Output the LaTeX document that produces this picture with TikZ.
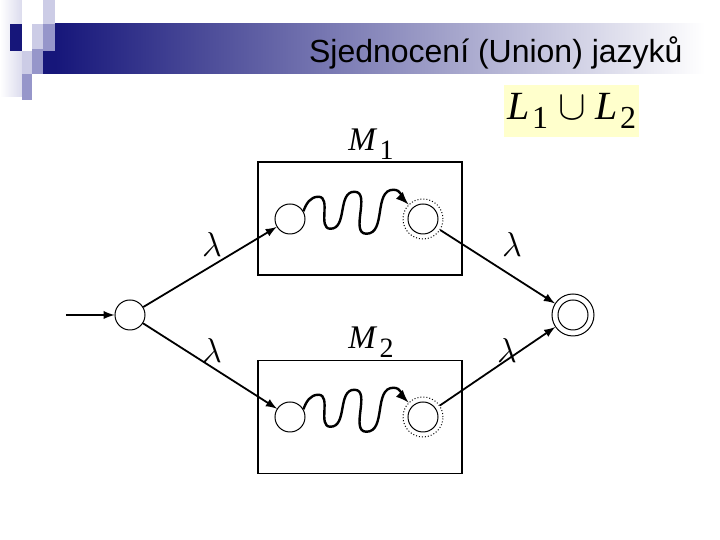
\documentclass[tikz,border=0pt]{standalone}
\usepackage{fontspec}
\setmainfont{Liberation Serif}
\newfontfamily\titlefont{Liberation Sans}
\usepackage{xcolor}
\usepackage{tikz}
\usetikzlibrary{shapes,arrows,positioning}
\definecolor{navy}{RGB}{22,22,122}
\definecolor{lightlav}{RGB}{204,204,230}
\definecolor{midlav}{RGB}{150,150,202}
\definecolor{lyellow}{RGB}{255,255,204}
\newcommand{\sublab}[4]{\textit{#1}\kern1pt\raisebox{#4}{\fontsize{#3}{#3}\selectfont #2}}

\begin{document}
\begin{tikzpicture}[
    x=0.5pt, y=0.5pt,
    node distance=0.7cm,
    state/.style={circle, draw, line width=0.5pt, minimum size=15pt, inner sep=0pt},
    accept/.style={circle, draw, densely dotted, line width=0.5pt, minimum size=20pt, inner sep=0pt},
    final/.style={circle, draw, line width=0.5pt, minimum size=21pt, inner sep=0pt},
    box/.style={rectangle, draw, line width=0.7pt, minimum width=102pt, minimum height=56.5pt},
    arrow/.style={-latex, line width=0.9pt},
    wave/.style={-latex, line width=1.2pt},
    lam/.style={font=\fontsize{17}{17}\selectfont},
    mlab/.style={font=\fontsize{16.5}{16.5}\selectfont}
]
\useasboundingbox (0,0) rectangle (720,540);

% header
\fill[left color=white, right color=lightlav!70] (0,443) rectangle (22,540);
\fill[left color=navy, right color=white] (55,466) rectangle (705,516);
\fill[navy] (43,466) rectangle (55,489);
\fill[navy] (10,489) rectangle (22,516);
\fill[lightlav] (32,491) rectangle (43,516);
\fill[midlav] (43,489) rectangle (55,516);
\fill[lightlav] (43,516) rectangle (55,540);
\fill[midlav] (32,466) rectangle (43,491);
\fill[lightlav] (22,466) rectangle (32,489);
\fill[midlav] (22,440) rectangle (32,466);
\node[anchor=base east, inner sep=0pt, font=\titlefont\fontsize{16}{16}\selectfont] (title) at (683,477) {Sjednocení (Union) jazyků};

\node[fill=lyellow, minimum width=67.5pt, minimum height=26pt, inner sep=1pt, font=\fontsize{20}{20}\selectfont] (union) at (572,429)
    {\sublab{L}{1}{16}{-0.45ex} $\cup$ \sublab{L}{2}{16}{-0.45ex}};

% machines
\node[box] (box1) at (360,321.5) {};
\node[box] (box2) at (360,123) {};
\node[mlab] (m1) at (371,396) {\sublab{M}{1}{14}{-0.6ex}};
\node[mlab] (m2) at (371,198) {\sublab{M}{2}{14}{-0.6ex}};

\node[state] (s1) at (290,321) {};
\node[accept] (f1) at (423,321) {};
\node[state] (s2) at (290,123) {};
\node[accept] (f2) at (423,123) {};
\draw[line width=0.5pt] (f1) circle (7.5pt);
\draw[line width=0.5pt] (f2) circle (7.5pt);

\foreach \m in {1,2}
    \draw[wave] (s\m.30) to[out=70,in=180] ++(15,14.5) to[out=0,in=180] ++(12,-32)
        to[out=0,in=180] ++(24,37) to[out=0,in=180] ++(12,-42)
        to[out=0,in=180] ++(27,44) to[out=0,in=135] (f\m.135);

% start and final
\coordinate (start) at (66,225);
\node[state] (q0) at (130,225) {};
\node[final] (qf) at (573,225) {};
\draw[line width=0.5pt] (qf) circle (7.5pt);

\draw[arrow] (start) -- (q0);
\draw[arrow] (q0) -- (s1);
\draw[arrow] (q0) -- (s2);
\draw[arrow] (f1) -- (qf);
\draw[arrow] (f2) -- (qf);

\node[lam] (l1) at (212,295) {$\lambda$};
\node[lam] (l2) at (212,189) {$\lambda$};
\node[lam] (l3) at (512,295) {$\lambda$};
\node[lam] (l4) at (507,189) {$\lambda$};
\end{tikzpicture}
\end{document}
